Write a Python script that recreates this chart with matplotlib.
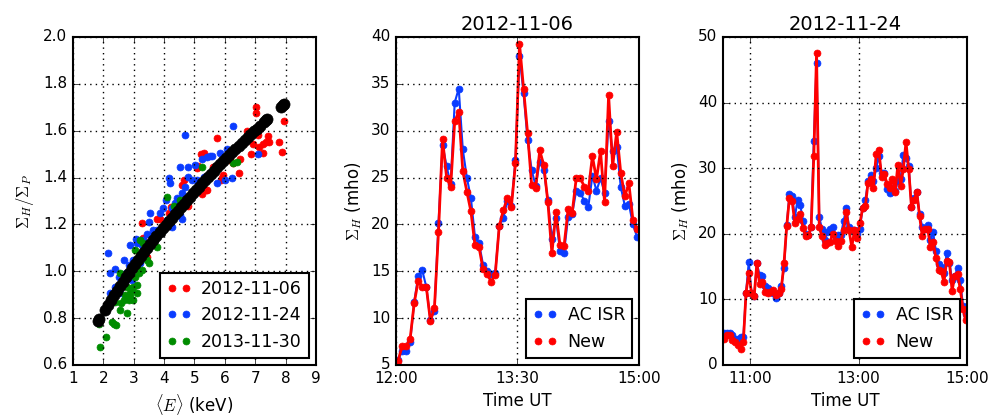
import numpy as np
import pandas as pd
import matplotlib
matplotlib.use("Agg")
import matplotlib.pyplot as plt
import matplotlib.dates as mdates

plt.style.use('classic')
plt.rcParams['font.family'] = ['DejaVu Sans']
plt.rcParams['mathtext.fontset'] = 'cm'
plt.rcParams['figure.facecolor'] = 'white'
plt.rcParams['savefig.facecolor'] = 'white'
plt.rcParams['axes.linewidth'] = 1.5

RED = '#ff0000'
BLUE = '#0a3cff'
GREEN = '#008c00'

# ---- left panel: Sigma_H / Sigma_P vs mean energy ----
red_E = [3.27, 7.03, 7.03, 7.95, 5.73, 6.72, 7.10, 7.41, 6.92, 6.85, 7.27, 7.35, 7.47, 7.14, 7.27,
         7.79, 7.88, 5.20, 5.13, 5.08, 5.37, 5.24, 6.48, 6.50, 6.17, 5.93, 5.87, 4.67, 4.80, 4.69,
         4.58, 3.76, 3.87, 3.16, 3.43, 3.32, 6.28, 5.62, 4.22, 4.15, 5.30, 5.90, 5.41, 4.75]
red_R = [1.207, 1.700, 1.676, 1.642, 1.569, 1.598, 1.580, 1.576, 1.545, 1.500, 1.543, 1.550, 1.553,
         1.531, 1.505, 1.552, 1.510, 1.500, 1.450, 1.440, 1.346, 1.330, 1.420, 1.480, 1.474, 1.410,
         1.389, 1.390, 1.280, 1.296, 1.370, 1.225, 1.225, 1.076, 1.062, 1.140, 1.460, 1.446, 1.275,
         1.247, 1.503, 1.396, 1.346, 1.282]

blue_E = [4.69, 6.28, 2.14, 2.23, 2.39, 2.88, 3.08, 3.54, 3.49, 4.07, 4.15, 4.20, 4.53, 4.80, 4.78,
          4.91, 4.59, 4.53, 4.25, 5.24, 5.52, 5.57, 5.84, 6.06, 6.23, 6.01, 5.73, 5.84, 6.50, 7.08,
          5.30, 5.41, 3.87, 3.76, 3.65, 3.32, 3.10, 2.99, 2.67, 2.50, 2.39, 2.56, 2.67, 2.23, 2.94,
          3.21, 3.38, 4.42, 4.58, 4.69, 4.36, 3.98, 4.25, 4.09, 2.86, 2.75, 2.45, 2.34, 3.27, 3.43,
          3.65, 5.02, 5.08]
blue_R = [1.580, 1.619, 1.076, 0.991, 1.008, 1.112, 1.136, 1.247, 1.211, 1.304, 1.396, 1.375, 1.446,
          1.446, 1.403, 1.390, 1.225, 1.240, 1.190, 1.477, 1.491, 1.490, 1.503, 1.520, 1.396, 1.389,
          1.375, 1.460, 1.535, 1.500, 1.403, 1.488, 1.247, 1.176, 1.161, 1.133, 1.119, 1.048, 1.048,
          0.977, 0.934, 0.906, 0.941, 0.906, 0.962, 1.034, 1.055, 1.311, 1.332, 1.360, 1.290, 1.268,
          1.268, 1.218, 1.026, 0.991, 0.920, 0.891, 1.112, 1.161, 1.176, 1.453, 1.389]

green_E = [1.88, 2.10, 1.85, 2.28, 2.34, 2.42, 2.56, 2.78, 2.39, 2.58, 2.72, 2.88, 2.99, 3.10, 3.05,
           3.16, 3.08, 3.27, 3.49, 3.43, 3.21, 3.32, 3.05, 3.71, 3.76, 4.11, 4.53, 4.62, 4.31, 5.24,
           6.28, 6.39, 2.56, 2.78, 2.88, 2.94, 2.83, 2.99, 3.10, 2.67, 2.45]
green_R = [0.675, 0.718, 0.775, 0.785, 0.775, 0.771, 0.835, 0.820, 0.870, 0.863, 0.899, 0.906, 0.934,
           0.941, 0.977, 0.991, 1.020, 1.005, 1.034, 1.048, 1.133, 1.119, 1.090, 1.133, 1.105, 1.318,
           1.304, 1.278, 1.278, 1.446, 1.460, 1.467, 0.991, 0.934, 0.892, 0.920, 0.877, 0.877, 0.906,
           0.877, 0.906]

# fitted model values (black band)
model_E = [1.84, 1.87, 2.05, 2.15, 2.25, 2.35, 2.45, 2.55, 2.65, 2.75, 2.85, 2.95, 3.05, 3.15, 3.25,
           3.35, 3.45, 3.55, 3.65, 3.75, 3.85, 3.95, 4.05, 4.15, 4.25, 4.35, 4.45, 4.55, 4.65, 4.75,
           4.85, 4.95, 5.05, 5.15, 5.25, 5.35, 5.45, 5.55, 5.65, 5.75, 5.85, 5.95, 6.05, 6.15, 6.25,
           6.35, 6.45, 6.55, 6.65, 6.75, 6.85, 6.95, 7.05, 7.15, 7.30, 7.35, 7.40, 7.85, 7.90, 7.95]
model_R = [0.788, 0.795, 0.834, 0.856, 0.877, 0.897, 0.917, 0.937, 0.956, 0.975, 0.994, 1.012, 1.030,
           1.048, 1.066, 1.083, 1.100, 1.117, 1.134, 1.150, 1.166, 1.183, 1.198, 1.214, 1.229, 1.244,
           1.259, 1.274, 1.289, 1.303, 1.318, 1.332, 1.347, 1.361, 1.375, 1.389, 1.402, 1.416, 1.430,
           1.443, 1.456, 1.469, 1.483, 1.495, 1.508, 1.520, 1.534, 1.546, 1.559, 1.571, 1.584, 1.597,
           1.608, 1.621, 1.638, 1.644, 1.650, 1.702, 1.709, 1.714]

# ---- middle panel: 2012-11-06 ----
acisr_06 = [5.5, 6.5, 6.5, 7.5, 11.7, 14.5, 15.1, 13.3, 9.8, 10.8, 20.1, 28.5, 26.2, 24.3, 33.0,
            34.5, 28.0, 25.0, 22.8, 18.7, 18.0, 15.7, 15.0, 14.7, 14.8, 19.8, 20.7, 22.5, 22.0, 26.9,
            38.0, 34.0, 29.0, 25.8, 24.1, 26.7, 25.8, 22.6, 18.4, 20.7, 17.2, 17.0, 20.8, 21.1, 23.6,
            23.4, 22.5, 21.9, 25.2, 23.6, 24.9, 23.4, 31.0, 27.8, 28.3, 24.0, 22.0, 22.2, 20.0, 18.7]
new_06 = [5.4, 7.0, 7.0, 7.8, 11.6, 14.0, 13.3, 13.3, 9.7, 11.1, 19.2, 29.1, 25.0, 24.0, 31.0,
          32.0, 25.7, 23.5, 21.4, 17.8, 17.6, 15.2, 14.7, 13.9, 14.6, 19.8, 21.5, 22.8, 21.9, 26.5,
          39.3, 34.5, 29.7, 24.2, 23.9, 27.9, 26.3, 22.4, 16.9, 21.3, 17.8, 17.7, 21.6, 21.2, 24.9,
          25.0, 24.0, 23.6, 27.3, 24.8, 27.8, 22.4, 33.8, 26.2, 29.9, 25.5, 23.0, 24.4, 20.5, 19.5]

# ---- right panel: 2012-11-24 ----
acisr_24 = [4.8, 4.9, 4.8, 4.5, 4.0, 4.0, 4.2, 4.3, 11.0, 15.7, 11.0, 10.5, 15.5, 13.7, 13.5,
            12.0, 11.8, 11.5, 11.0, 10.2, 11.0, 12.0, 14.8, 21.3, 26.0, 25.7, 22.5, 25.2, 24.4, 22.0,
            20.0, 19.8, 21.0, 34.2, 46.0, 22.5, 20.8, 19.0, 20.3, 20.8, 21.0, 19.5, 19.8, 19.8, 22.0,
            23.9, 21.0, 20.5, 20.6, 20.0, 20.8, 24.0, 25.1, 28.0, 29.0, 28.0, 30.0, 31.8, 29.2, 29.2,
            26.8, 26.2, 27.0, 26.5, 28.0, 28.4, 32.0, 31.6, 30.4, 24.1, 25.4, 26.4, 23.0, 21.0, 20.8,
            21.4, 19.1, 20.2, 17.4, 15.4, 15.0, 14.0, 17.0, 15.6, 13.0, 13.5, 14.8, 13.0, 9.0, 7.8]
new_24 = [4.0, 4.5, 4.6, 3.8, 3.5, 3.0, 2.5, 3.5, 11.0, 14.0, 11.0, 10.5, 15.5, 12.3, 12.6,
          11.2, 11.0, 11.2, 11.5, 10.7, 11.0, 11.6, 15.5, 21.2, 25.4, 25.0, 21.6, 22.3, 23.0, 20.9,
          19.6, 19.8, 21.0, 31.8, 47.5, 21.0, 19.6, 18.3, 18.6, 18.8, 20.0, 18.9, 18.2, 18.9, 20.6,
          23.3, 20.5, 18.0, 20.5, 19.3, 21.6, 23.9, 24.2, 27.8, 28.3, 27.0, 32.2, 32.7, 28.6, 29.1,
          27.6, 27.0, 28.4, 26.4, 30.5, 27.3, 29.8, 34.0, 29.8, 24.1, 25.2, 26.3, 22.7, 19.6, 20.8,
          20.8, 18.0, 18.8, 16.3, 14.5, 14.3, 12.6, 15.9, 15.7, 11.3, 13.6, 13.9, 11.6, 8.6, 6.8]

t06 = pd.date_range('2012-11-06 12:01:30', periods=len(new_06), freq='3min')
t24 = pd.date_range('2012-11-24 10:31:30', periods=len(new_24), freq='3min')

fig = plt.figure(figsize=(10.05, 4.2), dpi=100)
ax1 = fig.add_axes([0.0726, 0.131, 0.2418, 0.781])
ax2 = fig.add_axes([0.394, 0.131, 0.2418, 0.781])
ax3 = fig.add_axes([0.7194, 0.131, 0.2428, 0.781])

ms = 5
ax1.plot(red_E, red_R, 'o', color=RED, mec=RED, ms=ms, label='2012-11-06')
ax1.plot(blue_E, blue_R, 'o', color=BLUE, mec=BLUE, ms=ms, label='2012-11-24')
ax1.plot(green_E, green_R, 'o', color=GREEN, mec=GREEN, ms=ms, label='2013-11-30')
ax1.plot(model_E, model_R, 'o', color='k', mec='k', ms=8)
ax1.set_xlim(1, 9)
ax1.set_ylim(0.6, 2.0)
ax1.set_xticks(range(1, 10))
ax1.set_yticks(np.arange(0.6, 2.01, 0.2))
ax1.set_xlabel(r'$\langle E\rangle$ (keV)', fontsize=12)
ax1.set_ylabel(r'$\Sigma_H/\Sigma_P$', fontsize=12)
leg = ax1.legend(loc='lower right', numpoints=2, fontsize=12.5, handlelength=1.4,
                 borderaxespad=0.4, handletextpad=0.6)
leg.get_frame().set_linewidth(1.5)


def series_panel(ax, t, base, new, title, xt, xlim, ylim):
    ax.plot(t, base, '-', color=BLUE, lw=1.5)
    ax.plot(t, base, 'o', color=BLUE, mec=BLUE, ms=ms, label='AC ISR')
    ax.plot(t, new, '-', color=RED, lw=2)
    ax.plot(t, new, 'o', color=RED, mec=RED, ms=ms, label='New')
    ax.set_xlim(xlim)
    ax.set_ylim(ylim)
    ax.set_xticks(xt)
    ax.xaxis.set_major_formatter(mdates.DateFormatter('%H:%M'))
    ax.set_title(title, fontsize=14)
    ax.set_xlabel('Time UT', fontsize=12)
    ax.set_ylabel(r'$\Sigma_H$ (mho)', fontsize=12)
    lg = ax.legend(loc='lower right', numpoints=2, fontsize=12.5, handlelength=1.4,
                   borderaxespad=0.4, handletextpad=0.6)
    lg.get_frame().set_linewidth(1.5)


series_panel(ax2, t06, acisr_06, new_06, '2012-11-06',
             [pd.Timestamp('2012-11-06 12:00'), pd.Timestamp('2012-11-06 13:30'),
              pd.Timestamp('2012-11-06 15:00')],
             (pd.Timestamp('2012-11-06 12:00'), pd.Timestamp('2012-11-06 15:00')), (5, 40))
series_panel(ax3, t24, acisr_24, new_24, '2012-11-24',
             [pd.Timestamp('2012-11-24 11:00'), pd.Timestamp('2012-11-24 13:00'),
              pd.Timestamp('2012-11-24 15:00')],
             (pd.Timestamp('2012-11-24 10:30'), pd.Timestamp('2012-11-24 15:00')), (0, 50))

for ax in (ax1, ax2, ax3):
    ax.grid(True, color='k', linestyle=':', linewidth=1)
    ax.tick_params(labelsize=11)

fig.savefig('out.png', dpi=100)
